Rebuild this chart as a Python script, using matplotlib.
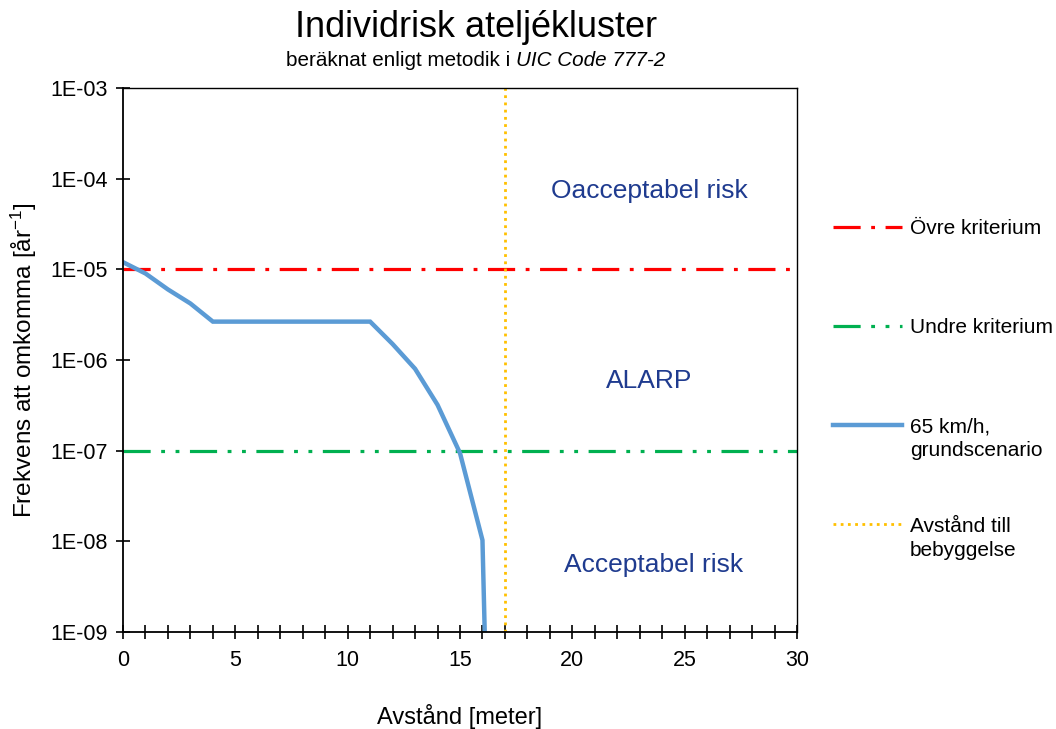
import matplotlib
matplotlib.use('Agg')
import matplotlib.pyplot as plt
import numpy as np

plt.rcParams['font.family'] = ['Liberation Sans', 'DejaVu Sans']
plt.rcParams['mathtext.fontset'] = 'custom'
plt.rcParams['mathtext.rm'] = 'Liberation Sans'
plt.rcParams['mathtext.it'] = 'Liberation Sans:italic'

# data
avstand = [0, 1, 2, 3, 4, 5, 6, 7, 8, 9, 10, 11, 12, 13, 14, 15, 16, 16.1]
frekvens = [1.2e-5, 9.0e-6, 6.0e-6, 4.2e-6, 2.65e-6, 2.65e-6, 2.65e-6, 2.65e-6,
            2.65e-6, 2.65e-6, 2.65e-6, 2.65e-6, 1.5e-6, 8.0e-7, 3.2e-7, 9.4e-8,
            1.03e-8, 1e-9]
ovre_kriterium = 1e-5
undre_kriterium = 1e-7
bebyggelse = 17

zon_texter = ['Oacceptabel risk', 'ALARP', 'Acceptabel risk']
zon_x = [23.45, 23.4, 23.6]
zon_y = [10 ** -4.135, 10 ** -6.235, 10 ** -8.265]

# legend labels; second lines are added below the first ones
legend_rad1 = ['Övre kriterium', 'Undre kriterium', '65 km/h,', 'Avstånd till']
legend_rad2 = [None, None, 'grundscenario', 'bebyggelse']

TEXT_BLUE = '#1F3B8F'

fig = plt.figure(figsize=(10.56, 7.29), dpi=100)
ax = fig.add_axes([123 / 1056, 1 - 632 / 729, 674 / 1056, 544 / 729])

ax.axhline(ovre_kriterium, color='#FF0000', lw=2.3,
           linestyle=(0, (8.5, 3.3, 1.2, 3.3)), label=legend_rad1[0])
ax.axhline(undre_kriterium, color='#00B050', lw=2.3,
           linestyle=(0, (8.5, 3.3, 1.2, 3.3, 1.2, 3.3)), label=legend_rad1[1])
ax.plot(avstand, frekvens, color='#5B9BD5', lw=3.2, solid_joinstyle='miter',
        label=legend_rad1[2])
ax.axvline(bebyggelse, color='#FFC000', lw=2.0, linestyle=(0, (1, 1.6)),
           label=legend_rad1[3])

for txt, x, y in zip(zon_texter, zon_x, zon_y):
    ax.text(x, y, txt, color=TEXT_BLUE, fontsize=19, ha='center', va='center')

ax.set_yscale('log')
ax.set_xlim(0, 30)
ax.set_ylim(1e-9, 1e-3)
ax.set_yticks([1e-9, 1e-8, 1e-7, 1e-6, 1e-5, 1e-4, 1e-3])
ax.set_yticklabels(['1E-09', '1E-08', '1E-07', '1E-06', '1E-05', '1E-04', '1E-03'])
ax.yaxis.set_minor_locator(matplotlib.ticker.NullLocator())
ax.set_xticks(np.arange(0, 31, 5))
ax.set_xticks(np.arange(0, 31, 1), minor=True)
ax.tick_params(axis='both', which='both', direction='inout', length=10, width=1.2,
               labelsize=15.5, color='black')
ax.tick_params(axis='x', which='major', pad=8)
ax.tick_params(axis='y', which='major', pad=6)
for sp in ax.spines.values():
    sp.set_linewidth(1.0)
ax.spines['left'].set_linewidth(1.3)
ax.spines['bottom'].set_linewidth(1.3)

ax.set_xlabel('Avstånd [meter]', fontsize=17, labelpad=24)
ax.set_ylabel('Frekvens att omkomma [år$^{-1}$]', fontsize=17.5, labelpad=8)

fig.text(0.451, 1 - 37 / 729, 'Individrisk ateljékluster', fontsize=26,
         ha='center', va='baseline')

leg = ax.legend(loc='upper left', bbox_to_anchor=(833 / 1056, 1 - 219 / 729),
                bbox_transform=fig.transFigure, frameon=False, fontsize=15,
                handlelength=3.3, handletextpad=0.4, labelspacing=3.85,
                borderpad=0, borderaxespad=0)

fig.canvas.draw()
r = fig.canvas.get_renderer()

# subtitle with italic part
t1 = fig.text(0, 1 - 66 / 729, 'beräknat enligt metodik i ', fontsize=14.9, va='baseline')
t2 = fig.text(0, 1 - 66 / 729, 'UIC Code 777-2', fontsize=14.9, style='italic', va='baseline')
w1 = t1.get_window_extent(r).width
w2 = t2.get_window_extent(r).width
x0 = 476 - (w1 + w2) / 2
t1.set_x(x0 / 1056)
t2.set_x((x0 + w1) / 1056)

# second lines of the legend labels
for lt, rad in zip(leg.get_texts(), legend_rad2):
    if rad is None:
        continue
    bb = lt.get_window_extent(r)
    fig.text(bb.x0 / 1056, (bb.y0 - 24) / 729, rad, fontsize=15, va='bottom')

fig.savefig('out.png', dpi=100)
